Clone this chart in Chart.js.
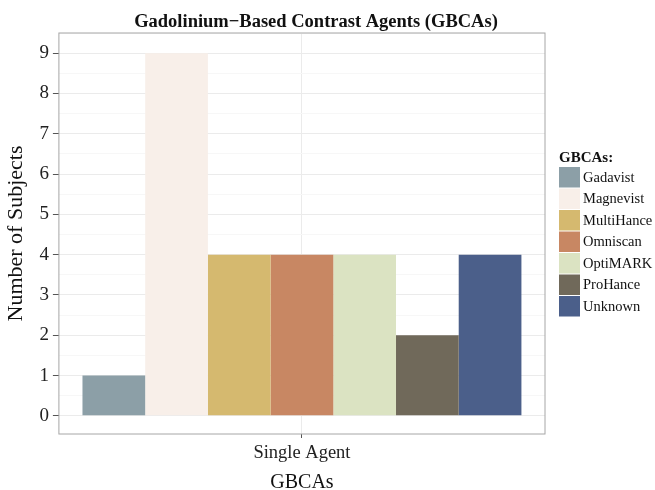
<!DOCTYPE html>
<html>
<head>
<meta charset="utf-8">
<script src="https://cdn.jsdelivr.net/npm/chart.js@4"></script>
<style>
  html, body { margin: 0; padding: 0; background: #fff; }
  #wrap { width: 655px; height: 490px; }
</style>
</head>
<body>
<div id="wrap"><canvas id="myChart" width="655" height="490"></canvas></div>
<script>
const categories = ["Single Agent"];
const agents = ["Gadavist", "Magnevist", "MultiHance", "Omniscan", "OptiMARK", "ProHance", "Unknown"];
const subjects = [1, 9, 4, 4, 4, 2, 4];
const agentColors = ["#8c9fa7", "#f8efe9", "#d5b96f", "#c88763", "#dbe3c2", "#70695a", "#4b5f8a"];
const yTicks = [0, 0.5, 1, 1.5, 2, 2.5, 3, 3.5, 4, 4.5, 5, 5.5, 6, 6.5, 7, 7.5, 8, 8.5, 9, 9.5];

const serif = "'Liberation Serif', 'DejaVu Serif', serif";
const chartTitle = "Gadolinium\u2212Based Contrast Agents (GBCAs)";
const legendTitle = "GBCAs:";

const datasets = agents.map((name, i) => ({
    label: name,
    data: [subjects[i]],
    backgroundColor: agentColors[i],
    borderWidth: 0,
    categoryPercentage: 0.903,
    barPercentage: 1.0
}));

// grey panel border, title and ggplot-like legend
const decorations = {
    id: 'decorations',
    afterDraw(chart) {
        const { ctx, chartArea: a } = chart;
        ctx.save();
        ctx.strokeStyle = '#a6a6a6';
        ctx.lineWidth = 1;
        ctx.strokeRect(a.left, a.top, a.right - a.left, a.bottom - a.top);

        ctx.fillStyle = '#111';
        ctx.textBaseline = 'alphabetic';
        ctx.textAlign = 'center';
        ctx.font = "bold 18.5px " + serif;
        ctx.fillText(chartTitle, 316, 27);

        // legend
        const lx = 559, ly = 167, pitch = 21.5;
        ctx.textAlign = 'left';
        ctx.font = "bold 15px " + serif;
        ctx.fillText(legendTitle, lx, 162);
        ctx.font = "14.5px " + serif;
        ctx.textBaseline = 'middle';
        chart.data.datasets.forEach((ds, i) => {
            const y = ly + i * pitch;
            ctx.fillStyle = ds.backgroundColor;
            ctx.fillRect(lx, y, 21, 20.5);
            ctx.fillStyle = '#111';
            ctx.fillText(ds.label, lx + 24, y + 11);
        });
        ctx.restore();
    }
};

const ctx = document.getElementById("myChart");
new Chart(ctx, {
    type: "bar",
    data: { labels: categories, datasets: datasets },
    options: {
        responsive: false,
        animation: false,
        layout: { padding: { top: 33, right: 110, bottom: 0, left: 3 } },
        plugins: {
            legend: { display: false },
            tooltip: { enabled: false }
        },
        scales: {
            x: {
                afterFit: (scale) => { scale.height = 56; },
                grid: {
                    offset: false,
                    color: "#ebebeb",
                    tickLength: 4,
                    tickColor: "#555"
                },
                border: { display: false },
                ticks: { color: "#222", font: { family: serif, size: 18.5 }, padding: 4 },
                title: {
                    display: true,
                    text: "GBCAs",
                    color: "#111",
                    font: { family: serif, size: 20, lineHeight: 1.0 },
                    padding: { top: 2, bottom: -3 }
                }
            },
            y: {
                min: -0.45,
                max: 9.5,
                afterBuildTicks: (scale) => {
                    scale.ticks = yTicks.map(v => ({ value: v }));
                },
                grid: {
                    color: (c) => (c.tick && Number.isInteger(c.tick.value)) ? "#ebebeb" : "#f7f7f7",
                    tickLength: 6,
                    tickColor: (c) => (c.tick && Number.isInteger(c.tick.value)) ? "#555" : "rgba(0,0,0,0)"
                },
                border: { display: false },
                ticks: {
                    autoSkip: false,
                    color: "#222",
                    font: { family: serif, size: 19 },
                    padding: 4,
                    callback: (v) => Number.isInteger(v) ? v : ""
                },
                title: {
                    display: true,
                    text: "Number of Subjects",
                    color: "#111",
                    font: { family: serif, size: 22 },
                    padding: { top: 0, bottom: 6 }
                }
            }
        }
    },
    plugins: [decorations]
});
</script>
</body>
</html>
